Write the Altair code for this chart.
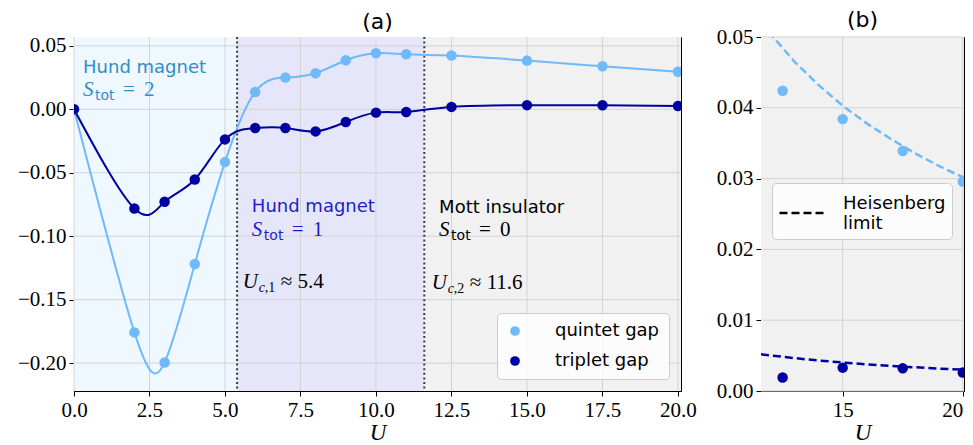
import altair as alt
import pandas as pd

# ---------------- data ----------------
U_vals = [0, 2, 3, 4, 5, 6, 7, 8, 9, 10, 11, 12.5, 15, 17.5, 20]
quintet_gap = [0.0, -0.1758, -0.1995, -0.1219, -0.0416, 0.0137, 0.0250, 0.0284,
               0.0387, 0.0442, 0.0434, 0.0424, 0.0384, 0.0339, 0.0296]
triplet_gap = [0.0, -0.0782, -0.0729, -0.0553, -0.0237, -0.0147, -0.0147, -0.0174,
               -0.0100, -0.0026, -0.0021, 0.0019, 0.0033, 0.0032, 0.0026]

U_heis = [11.6, 12, 13, 14, 15, 16, 17, 18, 19, 20, 20.05]
quintet_heis = [0.0521, 0.0504, 0.0465, 0.0432, 0.0403, 0.0378, 0.0356, 0.0336, 0.0318, 0.0302, 0.0301]
triplet_heis = [0.00518, 0.00503, 0.00464, 0.00431, 0.00402, 0.00377, 0.00355, 0.00335, 0.00317, 0.00302, 0.00301]

series_names = ["quintet gap", "triplet gap"]
series_colors = ["#70b9fa", "#0000a0"]

region_start = [0, 5.4, 11.6]
region_end = [5.4, 11.6, 20.1]
region_fill = ["#f0f8ff", "#e6e6fa", "#f1f1f1"]
transitions = [5.4, 11.6]

xticks_a = [0, 2.5, 5, 7.5, 10, 12.5, 15, 17.5, 20]
yticks_a = [-0.2, -0.15, -0.1, -0.05, 0, 0.05]
xticks_b = [15, 20]
yticks_b = [0, 0.01, 0.02, 0.03, 0.04, 0.05]

# annotations (phase labels)
phase_text = ["Hund magnet", "Hund magnet", "Mott insulator"]
phase_x = [0.30, 5.89, 12.09]
phase_y = [0.0290, -0.0811, -0.0816]
phase_color = ["#328cc8", "#1e1ec8", "#000000"]
stot_value = ["2", "1", "0"]
stot_y = [0.0104, -0.1000, -0.1000]

uc_x = [5.59, 11.85]
uc_y = [-0.1408, -0.1416]
uc_c = ["c", "c"]
uc_n = [",1", ",2"]
uc_val = ["≈ 5.4", "≈ 11.6"]

# ---------------- tables ----------------
gaps = pd.DataFrame({
    "U": U_vals * 2,
    "gap": quintet_gap + triplet_gap,
    "series": [series_names[0]] * len(U_vals) + [series_names[1]] * len(U_vals),
})
heis = pd.DataFrame({
    "U": U_heis * 2,
    "gap": quintet_heis + triplet_heis,
    "series": [series_names[0]] * len(U_heis) + [series_names[1]] * len(U_heis),
    "kind": ["Heisenberg limit"] * (2 * len(U_heis)),
})
regions = pd.DataFrame({"start": region_start, "end": region_end, "fill": region_fill})
trans = pd.DataFrame({"Uc": transitions})
phases = pd.DataFrame({"x": phase_x, "y": phase_y, "label": phase_text, "col": phase_color,
                       "sy": stot_y, "val": stot_value})
ucs = pd.DataFrame({"x": uc_x, "y": uc_y, "c": uc_c, "n": uc_n, "val": uc_val})
xt_a = pd.DataFrame({"t": xticks_a})
yt_a = pd.DataFrame({"t": yticks_a})
xt_b = pd.DataFrame({"t": xticks_b})
yt_b = pd.DataFrame({"t": yticks_b})

SERIF = "Liberation Serif"
SANS = "DejaVu Sans"
GRID = "#d3d3d3"

# ---------------- panel (a) ----------------
xa_scale = alt.Scale(domain=[0, 20.1], nice=False, zero=False)
ya_scale = alt.Scale(domain=[-0.222, 0.057], nice=False, zero=False)
xa_axis = alt.Axis(values=xticks_a, format=".1f", title="U", grid=False, labelFlush=False)
ya_axis = alt.Axis(values=yticks_a, format=".2f", title=None, grid=False, labelFlush=False,
                   minExtent=65, maxExtent=65)


def xa(f):
    return alt.X(f, scale=xa_scale, axis=xa_axis)


def ya(f):
    return alt.Y(f, scale=ya_scale, axis=ya_axis)


bg_a = alt.Chart(regions).mark_rect(clip=True).encode(
    x=xa("start:Q"), x2="end:Q", color=alt.Color("fill:N", scale=None))
gx_a = alt.Chart(xt_a).mark_rule(color=GRID, strokeWidth=1).encode(x=xa("t:Q"))
gy_a = alt.Chart(yt_a).mark_rule(color=GRID, strokeWidth=1).encode(y=ya("t:Q"))
rules_a = alt.Chart(trans).mark_rule(color="#3a3a3a", strokeWidth=2, strokeDash=[2, 2.6]).encode(
    x=xa("Uc:Q"))

lines_a = [
    alt.Chart(gaps).transform_filter(alt.datum.series == s).mark_line(
        interpolate="natural", color=c, strokeWidth=2, clip=True).encode(x=xa("U:Q"), y=ya("gap:Q"))
    for s, c in zip(series_names, series_colors)
]
points_a = alt.Chart(gaps).mark_circle(size=110, opacity=1, clip=True).encode(
    x=xa("U:Q"), y=ya("gap:Q"),
    color=alt.Color("series:N", scale=alt.Scale(domain=series_names, range=series_colors),
                    legend=alt.Legend(title=None, orient="bottom-right", offset=12, padding=9,
                                      fillColor="rgba(255,255,255,0.8)", strokeColor="#cccccc",
                                      cornerRadius=4, symbolType="circle", symbolSize=95,
                                      symbolOpacity=1, labelOffset=31,
                                      rowPadding=12, labelFont=SANS, labelFontSize=18,
                                      labelColor="black")))

txt_phase = alt.Chart(phases).mark_text(align="left", baseline="alphabetic", font=SANS, fontSize=18).encode(
    x=xa("x:Q"), y=ya("y:Q"), text="label:N", color=alt.Color("col:N", scale=None))
txt_S = alt.Chart(phases).mark_text(align="left", baseline="alphabetic", font=SERIF, fontSize=21,
                                    fontStyle="italic", text="S").encode(
    x=xa("x:Q"), y=ya("sy:Q"), color=alt.Color("col:N", scale=None))
txt_tot = alt.Chart(phases).mark_text(align="left", baseline="alphabetic", font=SANS, fontSize=14,
                                      dx=12, dy=4, text="tot").encode(
    x=xa("x:Q"), y=ya("sy:Q"), color=alt.Color("col:N", scale=None))
txt_eq = alt.Chart(phases).mark_text(align="left", baseline="alphabetic", font=SERIF, fontSize=21,
                                     dx=40, text="=").encode(
    x=xa("x:Q"), y=ya("sy:Q"), color=alt.Color("col:N", scale=None))
txt_val = alt.Chart(phases).mark_text(align="left", baseline="alphabetic", font=SERIF, fontSize=21,
                                      dx=61).encode(
    x=xa("x:Q"), y=ya("sy:Q"), text="val:N", color=alt.Color("col:N", scale=None))

txt_U = alt.Chart(ucs).mark_text(align="left", baseline="alphabetic", font=SERIF, fontSize=21,
                                 fontStyle="italic", text="U", color="black").encode(
    x=xa("x:Q"), y=ya("y:Q"))
txt_Uc = alt.Chart(ucs).mark_text(align="left", baseline="alphabetic", font=SERIF, fontSize=14,
                                  fontStyle="italic", dx=16, dy=4, color="black").encode(
    x=xa("x:Q"), y=ya("y:Q"), text="c:N")
txt_Un = alt.Chart(ucs).mark_text(align="left", baseline="alphabetic", font=SERIF, fontSize=14,
                                  dx=22, dy=4, color="black").encode(
    x=xa("x:Q"), y=ya("y:Q"), text="n:N")
txt_Uval = alt.Chart(ucs).mark_text(align="left", baseline="alphabetic", font=SERIF, fontSize=21,
                                    dx=38, color="black").encode(
    x=xa("x:Q"), y=ya("y:Q"), text="val:N")

panel_a = alt.layer(bg_a, gx_a, gy_a, rules_a, *lines_a, points_a,
                    txt_phase, txt_S, txt_tot, txt_eq, txt_val, txt_U, txt_Uc, txt_Un, txt_Uval).properties(
    width=607, height=354, title=alt.TitleParams("(a)", offset=1))

# ---------------- panel (b) ----------------
xb_scale = alt.Scale(domain=[11.6, 20.05], nice=False, zero=False)
yb_scale = alt.Scale(domain=[0, 0.05], nice=False, zero=False)
xb_axis = alt.Axis(values=xticks_b, format="d", title="U", grid=False, labelFlush=4)
yb_axis = alt.Axis(values=yticks_b, format=".2f", title=None, grid=False, labelFlush=False)


def xb(f):
    return alt.X(f, scale=xb_scale, axis=xb_axis)


def yb(f):
    return alt.Y(f, scale=yb_scale, axis=yb_axis)


bg_b = alt.Chart(regions.iloc[[2]]).mark_rect(clip=True).encode(
    x=xb("start:Q"), x2="end:Q", color=alt.Color("fill:N", scale=None))
gx_b = alt.Chart(xt_b).mark_rule(color=GRID, strokeWidth=1).encode(x=xb("t:Q"))
gy_b = alt.Chart(yt_b).mark_rule(color=GRID, strokeWidth=1).encode(y=yb("t:Q"))

color_b = alt.Color("series:N", scale=alt.Scale(domain=series_names, range=series_colors), legend=None)
lines_b = alt.Chart(heis).mark_line(strokeWidth=2.5, clip=True).encode(
    x=xb("U:Q"), y=yb("gap:Q"), color=color_b, detail="series:N",
    strokeDash=alt.StrokeDash("kind:N", scale=alt.Scale(domain=["Heisenberg limit"], range=[[8, 4]]),
                              legend=alt.Legend(title=None, orient="none", legendX=11, legendY=146,
                                                padding=6, fillColor="rgba(255,255,255,0.8)",
                                                strokeColor="#cccccc", cornerRadius=4,
                                                symbolType="stroke", symbolSize=2025,
                                                symbolStrokeWidth=2.5, symbolStrokeColor="black",
                                                labelOffset=17, labelExpr="['Heisenberg', 'limit']",
                                                labelBaseline="bottom",
                                                labelFont=SANS, labelFontSize=18, labelColor="black")))
points_b = alt.Chart(gaps).transform_filter(alt.datum.U >= 12).mark_circle(
    size=110, opacity=1, clip=True).encode(x=xb("U:Q"), y=yb("gap:Q"), color=color_b)

panel_b = alt.layer(bg_b, gx_b, gy_b, lines_b, points_b).properties(
    width=203, height=354, title=alt.TitleParams("(b)", offset=-6))

chart = alt.hconcat(panel_a, panel_b, spacing=80, bounds="flush").resolve_scale(
    color="independent", strokeDash="independent").resolve_legend(
    color="independent", strokeDash="independent").properties(
    padding={"left": 0, "top": 0, "right": 0, "bottom": 0}).configure_view(
    stroke="black", strokeWidth=1).configure_axis(
    labelFont=SERIF, labelFontSize=21, labelColor="black", labelPadding=3,
    tickColor="black", tickSize=5, domainColor="black", domainWidth=1,
    titleFont=SERIF, titleFontSize=23, titleFontStyle="italic", titleFontWeight="normal",
    titleColor="black", titlePadding=1).configure_title(
    font=SANS, fontSize=22, fontWeight="normal", color="black", anchor="middle")

chart.save("out.html", embed_options={"renderer": "svg", "actions": False})
